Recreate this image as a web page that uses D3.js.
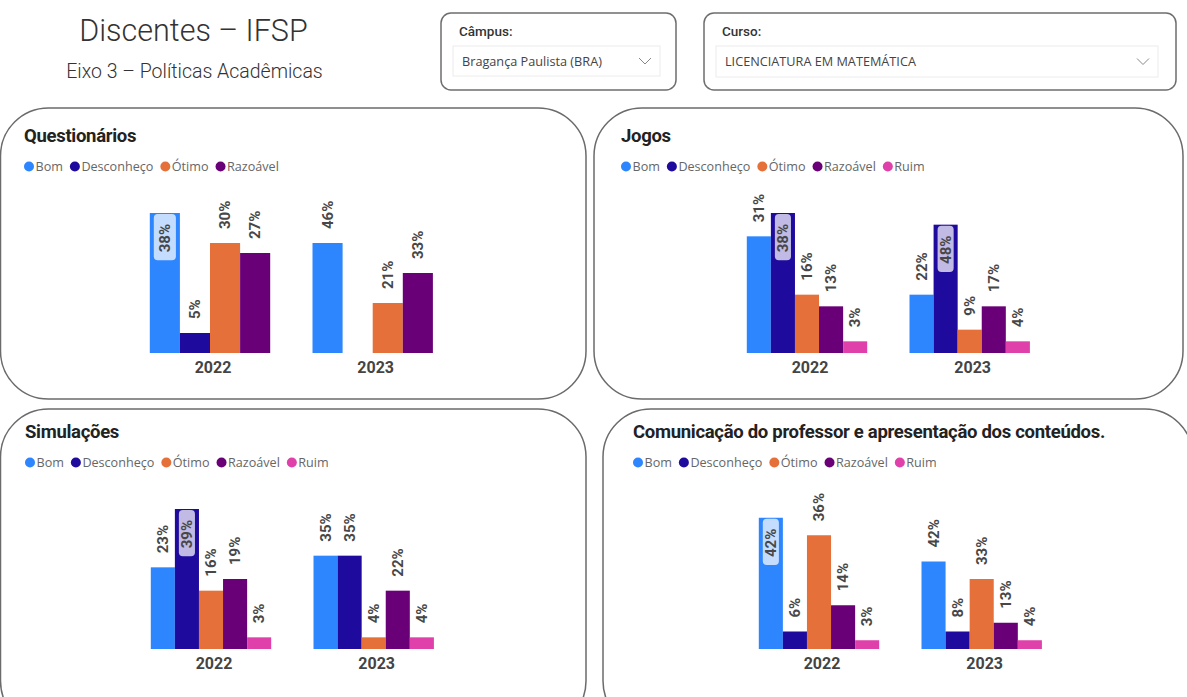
<!DOCTYPE html>
<html><head><meta charset="utf-8">
<script src="https://cdn.jsdelivr.net/npm/d3@7"></script>
<style>html,body{margin:0;padding:0;background:#fff;overflow:hidden}</style>
</head><body>
<script>
// ---------- DATA ----------
const years = ["2022", "2023"];
const categories = ["Bom", "Desconheço", "Ótimo", "Razoável", "Ruim"];
const categoryColors = ["#2E86FF", "#1E0A9D", "#E5703A", "#6A0077", "#E040AA"];

// respondent counts (bar heights); labels show share of the year total
const questionariosCats = ["Bom", "Desconheço", "Ótimo", "Razoável"];
const questionarios2022 = [14, 2, 11, 10];
const questionarios2023 = [11, 0, 5, 8];

const jogosCats = ["Bom", "Desconheço", "Ótimo", "Razoável", "Ruim"];
const jogos2022 = [10, 12, 5, 4, 1];
const jogos2023 = [5, 11, 2, 4, 1];

const simulacoesCats = ["Bom", "Desconheço", "Ótimo", "Razoável", "Ruim"];
const simulacoes2022 = [7, 12, 5, 6, 1];
const simulacoes2023 = [8, 8, 1, 5, 1];

const comunicacaoCats = ["Bom", "Desconheço", "Ótimo", "Razoável", "Ruim"];
const comunicacao2022 = [15, 2, 13, 5, 1];
const comunicacao2023 = [10, 2, 8, 3, 1];

const chartTitles = ["Questionários", "Jogos", "Simulações", "Comunicação do professor e apresentação dos conteúdos."];
const axisMax = [14, 12, 12, 16];

const pageTitle = "Discentes – IFSP";
const pageSubtitle = "Eixo 3 – Políticas Acadêmicas";
const slicerLabels = ["Câmpus:", "Curso:"];
const slicerValues = ["Bragança Paulista (BRA)", "LICENCIATURA EM MATEMÁTICA"];

// ---------- LAYOUT ----------
const W = 1187, H = 697;
const svg = d3.select("body").append("svg").attr("width", W).attr("height", H)
  .style("font-family", "Roboto, 'Open Sans', sans-serif");
svg.append("rect").attr("width", W).attr("height", H).attr("fill", "#fff");

const colorOf = d3.scaleOrdinal().domain(categories).range(categoryColors);

// header
svg.append("text").attr("x", 193.5).attr("y", 41).attr("text-anchor", "middle")
  .attr("fill", "#333").style("font-size", "30.5px").style("font-weight", 300).text(pageTitle);
svg.append("text").attr("x", 194.5).attr("y", 78).attr("text-anchor", "middle")
  .attr("fill", "#333").style("font-size", "19.5px").style("font-weight", 300).text(pageSubtitle);

// slicers
const slicerBoxes = [
  {x: 441, y: 13, w: 235, h: 77, ix: 453, iy: 46, iw: 207, ih: 30},
  {x: 704, y: 13, w: 472, h: 77, ix: 716, iy: 46, iw: 442, ih: 31}
];
slicerBoxes.forEach((b, i) => {
  const g = svg.append("g");
  g.append("rect").attr("x", b.x).attr("y", b.y).attr("width", b.w).attr("height", b.h)
    .attr("rx", 10).attr("fill", "#fff").attr("stroke", "#6e6e6e").attr("stroke-width", 1.5);
  g.append("text").attr("x", b.x + 18).attr("y", 36).attr("fill", "#333")
    .style("font-size", "13.5px").style("font-weight", 500).text(slicerLabels[i]);
  g.append("rect").attr("x", b.ix).attr("y", b.iy).attr("width", b.iw).attr("height", b.ih)
    .attr("fill", "#fff").attr("stroke", "#ececec").attr("stroke-width", 1);
  g.append("text").attr("x", b.ix + 9).attr("y", b.iy + b.ih / 2 + 4.5).attr("fill", "#444")
    .style("font-family", "'Open Sans', sans-serif").style("font-size", "12.7px").text(slicerValues[i]);
  const cx = b.ix + b.iw - 15, cy = b.iy + b.ih / 2;
  g.append("path").attr("d", `M${cx - 6},${cy - 3}L${cx},${cy + 3}L${cx + 6},${cy - 3}`)
    .attr("fill", "none").attr("stroke", "#888").attr("stroke-width", 1);
});

// panels
const panels = [
  {title: chartTitles[0], cats: questionariosCats, data: [questionarios2022, questionarios2023], yMax: axisMax[0],
   box: {x: 0.5, y: 108, w: 585.5, h: 291}, origin: [0, 108]},
  {title: chartTitles[1], cats: jogosCats, data: [jogos2022, jogos2023], yMax: axisMax[1],
   box: {x: 594, y: 108, w: 589, h: 291}, origin: [597, 108]},
  {title: chartTitles[2], cats: simulacoesCats, data: [simulacoes2022, simulacoes2023], yMax: axisMax[2],
   box: {x: 0.5, y: 409, w: 585.5, h: 320}, origin: [1, 404]},
  {title: chartTitles[3], cats: comunicacaoCats, data: [comunicacao2022, comunicacao2023], yMax: axisMax[3],
   box: {x: 603, y: 409, w: 590, h: 320}, origin: [609, 404]}
];

const plotTop = 105, plotBottom = 245;
const labelFont = 15;

panels.forEach(p => {
  svg.append("rect").attr("x", p.box.x).attr("y", p.box.y).attr("width", p.box.w).attr("height", p.box.h)
    .attr("rx", 48).attr("fill", "#fff").attr("stroke", "#6b6b6b").attr("stroke-width", 1.5);

  const g = svg.append("g").attr("transform", `translate(${p.origin[0]},${p.origin[1]})`);

  g.append("text").attr("x", 24).attr("y", 34).attr("fill", "#222")
    .style("font-size", "18.5px").style("font-weight", 700).style("letter-spacing", "-0.3px").text(p.title);

  // legend
  const lg = g.append("g").attr("transform", "translate(0,58.5)");
  let lx = 29;
  p.cats.forEach(c => {
    lg.append("circle").attr("cx", lx).attr("cy", 0).attr("r", 5).attr("fill", colorOf(c));
    const t = lg.append("text").attr("x", lx + 6.5).attr("y", 4.5).attr("fill", "#666")
      .style("font-family", "'Open Sans', sans-serif").style("font-size", "12.6px").text(c);
    lx = lx + 6.5 + t.node().getComputedTextLength() + 12;
  });

  // scales
  const x0 = d3.scaleBand().domain(years).range([210 - 81.35, 210 + 162.7 + 81.35])
    .paddingInner(0.26).paddingOuter(0.13);
  const x1 = d3.scaleBand().domain(p.cats).range([0, x0.bandwidth()]);
  const y = d3.scaleLinear().domain([0, p.yMax]).range([plotBottom, plotTop]);
  const ceiling = y(p.yMax) - 26;

  years.forEach((yr, yi) => {
    const vals = p.data[yi];
    const total = d3.sum(vals);
    const rows = p.cats.map((c, ci) => ({c, v: vals[ci], pct: Math.round(vals[ci] / total * 100)}))
      .filter(d => d.v > 0);
    const gg = g.append("g").attr("transform", `translate(${x0(yr)},0)`);
    gg.selectAll("rect.bar").data(rows).join("rect").attr("class", "bar")
      .attr("x", d => x1(d.c)).attr("width", x1.bandwidth())
      .attr("y", d => y(d.v)).attr("height", d => plotBottom - y(d.v))
      .attr("fill", d => colorOf(d.c));

    rows.forEach(d => {
      const cx = x1(d.c) + x1.bandwidth() / 2;
      const top = y(d.v);
      const txt = d.pct + "%";
      const t = gg.append("text").attr("fill", "#474747")
        .style("font-size", labelFont + "px").style("font-weight", 700)
        .attr("dy", "0.35em").text(txt);
      const len = t.node().getComputedTextLength();
      if (top - 14 - len < ceiling) {
        const by0 = top + 1, bh = len + 18;
        gg.insert("rect", () => t.node())
          .attr("x", x1(d.c) + 4).attr("width", x1.bandwidth() - 8)
          .attr("y", by0).attr("height", bh).attr("rx", 4)
          .attr("fill", "#fff").attr("fill-opacity", 0.72);
        t.attr("text-anchor", "end").attr("transform", `translate(${cx},${top + 11}) rotate(-90)`);
      } else {
        t.attr("text-anchor", "start").attr("transform", `translate(${cx},${top - 14}) rotate(-90)`);
      }
    });

    g.append("text").attr("x", x0(yr) + x0.bandwidth() / 2 + 3).attr("y", 265)
      .attr("text-anchor", "middle").attr("fill", "#444")
      .style("font-size", "16px").style("font-weight", 700).text(yr);
  });
});
</script>
</body></html>
